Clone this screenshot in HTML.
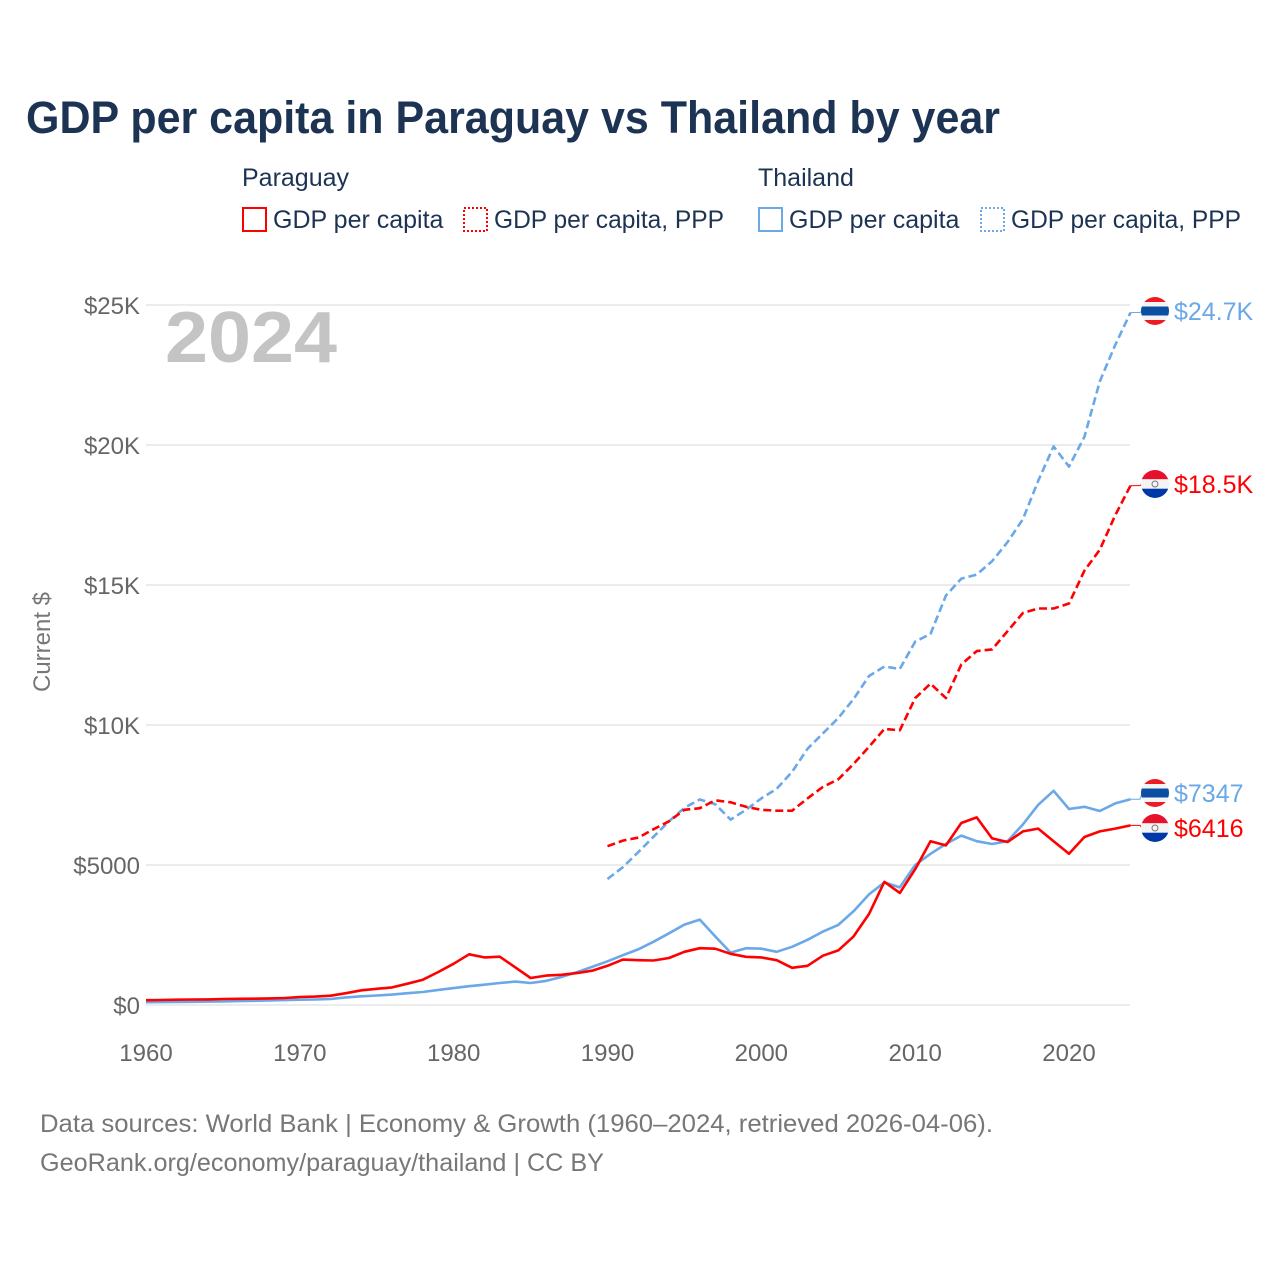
<!DOCTYPE html>
<html><head><meta charset="utf-8"><style>
body{margin:0;background:#fff;}
svg text{font-family:"Liberation Sans",sans-serif;}
</style></head><body>
<svg id="chart" width="1280" height="1280" xmlns="http://www.w3.org/2000/svg">
<rect width="1280" height="1280" fill="#fff"/>
<text x="26" y="133" font-size="45" font-weight="bold" fill="#1d3354" textLength="974" lengthAdjust="spacingAndGlyphs">GDP per capita in Paraguay vs Thailand by year</text>
<g font-size="25" fill="#1d3354">
<text x="242" y="186">Paraguay</text>
<text x="758" y="186">Thailand</text>
<g><rect x="243" y="208" width="23" height="23" fill="none" stroke="#ff0000" stroke-width="2"/><text x="273" y="228">GDP per capita</text></g>
<g><rect x="464" y="208" width="23" height="23" fill="none" stroke="#ff0000" stroke-width="2" stroke-dasharray="2,2"/><text x="494" y="228" textLength="230" lengthAdjust="spacingAndGlyphs">GDP per capita, PPP</text></g>
<g><rect x="759" y="208" width="23" height="23" fill="none" stroke="#6aa8e8" stroke-width="2"/><text x="789" y="228">GDP per capita</text></g>
<g><rect x="981" y="208" width="23" height="23" fill="none" stroke="#6aa8e8" stroke-width="2" stroke-dasharray="2,2"/><text x="1011" y="228" textLength="230" lengthAdjust="spacingAndGlyphs">GDP per capita, PPP</text></g>
</g>
<text x="165" y="362" font-size="72" font-weight="bold" fill="#c4c4c4" textLength="172" lengthAdjust="spacingAndGlyphs">2024</text>
<text transform="translate(50,642) rotate(-90)" text-anchor="middle" font-size="24" fill="#777">Current $</text>
<g id="grid"></g><g id="ylab"></g><g id="xlab"></g><g id="series"></g><g id="ends"></g>
<text x="40" y="1132" font-size="25" fill="#777" textLength="953" lengthAdjust="spacingAndGlyphs">Data sources: World Bank | Economy &amp; Growth (1960–2024, retrieved 2026-04-06).</text>
<text x="40" y="1171" font-size="25" fill="#777" textLength="564" lengthAdjust="spacingAndGlyphs">GeoRank.org/economy/paraguay/thailand | CC BY</text>
</svg>
<script>
const yTicks=[0,5000,10000,15000,20000,25000];
const yTickLabels=["$0","$5000","$10K","$15K","$20K","$25K"];
const xTicks=[1960,1970,1980,1990,2000,2010,2020];
const pyGdpStart=1960;
const pyGdp=[170,180,190,195,200,214,220,225,235,250,285,300,333,420,524,580,630,760,905,1180,1475,1810,1700,1725,1345,965,1050,1080,1140,1225,1400,1620,1600,1590,1680,1900,2030,2010,1830,1720,1700,1600,1330,1400,1760,1950,2450,3250,4400,4000,4850,5850,5700,6500,6700,5950,5820,6200,6300,5850,5400,6000,6200,6300,6416];
const thGdpStart=1960;
const thGdp=[100,105,110,115,120,130,140,150,160,175,190,195,215,270,310,340,370,420,465,540,605,670,725,785,835,785,860,1000,1170,1360,1560,1780,1990,2260,2560,2870,3050,2450,1870,2030,2010,1900,2080,2330,2620,2860,3350,3950,4380,4200,5000,5400,5750,6050,5850,5750,5850,6450,7150,7650,7000,7080,6930,7200,7347];
const pyPppStart=1990;
const pyPpp=[5670,5870,5980,6280,6560,6970,7030,7310,7240,7080,6970,6940,6940,7380,7790,8060,8610,9220,9860,9810,10960,11480,10960,12160,12640,12700,13350,14000,14160,14160,14340,15510,16260,17490,18550];
const thPppStart=1990;
const thPpp=[4500,4920,5460,6010,6560,7040,7340,7170,6620,6970,7380,7720,8330,9150,9700,10250,10930,11750,12090,12000,12980,13250,14620,15230,15370,15850,16530,17350,18720,19950,19230,20290,22270,23570,24730];
const endLabels=["$24.7K","$18.5K","$7347","$6416"];

const NS="http://www.w3.org/2000/svg";
const X=yr=>146+(yr-1960)*(1069-146)/60;
const Y=v=>1005-v*0.028;
function mk(tag,attrs,parent,txt){const e=document.createElementNS(NS,tag);for(const k in attrs)e.setAttribute(k,attrs[k]);if(txt!==undefined)e.textContent=txt;document.getElementById(parent).appendChild(e);return e;}
yTicks.forEach((v,i)=>{
  const l=mk('line',{x1:146,x2:1130,y1:Y(v),y2:Y(v),stroke:'#e6e6e6','stroke-width':1.5},'grid');
  
  
  const t=mk('text',{x:140,y:Y(v)+9,'text-anchor':'end','font-size':24,fill:'#666'},'ylab',yTickLabels[i]);
  
  
});
xTicks.forEach(yr=>{
  const t=mk('text',{x:X(yr),y:1061,'text-anchor':'middle','font-size':24,fill:'#666'},'xlab',String(yr));
  
  
});
function line(arr,start,color,dash,name){
  const d=arr.map((v,i)=>(i?'L':'M')+X(start+i).toFixed(1)+','+Y(v).toFixed(1)).join('');
  const p=mk('path',{d:d,fill:'none',stroke:color,'stroke-width':2.6,'stroke-linejoin':'round'},'series');
  if(dash)p.setAttribute('stroke-dasharray','8,4');
  
  
}
line(thGdp,thGdpStart,'#6aa8e8',false,'thailand-gdp-line');
line(pyGdp,pyGdpStart,'#ff0000',false,'paraguay-gdp-line');
line(thPpp,thPppStart,'#6aa8e8',true,'thailand-ppp-line');
line(pyPpp,pyPppStart,'#ff0000',true,'paraguay-ppp-line');

function flag(cx,cy,country){
  const g=mk('g',{},'ends');
  
  
  const id='c'+Math.round(cy);
  const cp=document.createElementNS(NS,'clipPath');cp.setAttribute('id',id);
  const c=document.createElementNS(NS,'circle');c.setAttribute('cx',cx);c.setAttribute('cy',cy);c.setAttribute('r',14);cp.appendChild(c);g.appendChild(cp);
  const stripes=country==='thailand'?[['#ed1c24',0,5],['#f4f4f4',5,4.5],['#0b4ea2',9.5,9],['#f4f4f4',18.5,4.5],['#ed1c24',23,5]]:[['#e8112d',0,9.3],['#f4f4f4',9.3,9.4],['#0038a8',18.7,9.3]];
  stripes.forEach(s=>{const r=document.createElementNS(NS,'rect');r.setAttribute('x',cx-14);r.setAttribute('y',cy-14+s[1]);r.setAttribute('width',28);r.setAttribute('height',s[2]);r.setAttribute('fill',s[0]);r.setAttribute('clip-path','url(#'+id+')');g.appendChild(r);});
  if(country==='paraguay'){const e=document.createElementNS(NS,'circle');e.setAttribute('cx',cx);e.setAttribute('cy',cy);e.setAttribute('r',3);e.setAttribute('fill','none');e.setAttribute('stroke','#777');e.setAttribute('stroke-width',1);g.appendChild(e);}
}
const ends=[[thPpp,'#6aa8e8','thailand',311],[pyPpp,'#ff0000','paraguay',484],[thGdp,'#6aa8e8','thailand',793],[pyGdp,'#ff0000','paraguay',828]];
ends.forEach((e,i)=>{
  const v=e[0][e[0].length-1];
  const c=mk('path',{d:'M'+X(2024)+','+Y(v)+'L1140,'+Y(v)+'L1142,'+e[3],fill:'none',stroke:e[1],'stroke-width':1},'ends');
  
  
  flag(1155,e[3],e[2]);
  const t=mk('text',{x:1174,y:e[3]+9,'font-size':25,fill:e[1]},'ends',endLabels[i]);
  
  
});
</script>
</body></html>
